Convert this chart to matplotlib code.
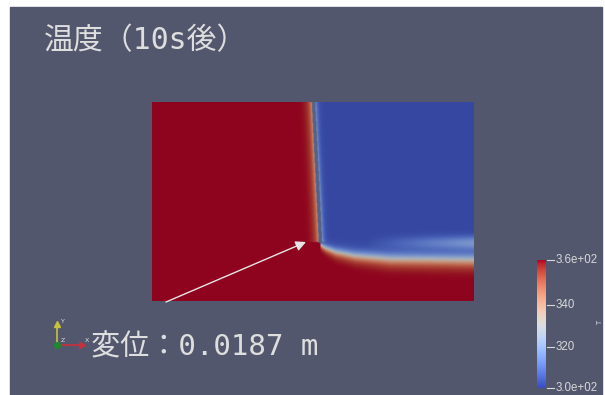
import numpy as np
import matplotlib.pyplot as plt
from matplotlib import cm
from matplotlib.colors import Normalize
from matplotlib.patches import Rectangle

# temperature range of the colour legend
t_min, t_max = 300.0, 362.0
tick_values = [360, 340, 320, 300]
tick_labels = ['3.6e+02', '340', '320', '3.0e+02']

# field levels
t_cold = 302.0         # water side
t_wall_hot = 342.0     # orange band left of the wall
t_wall_cold = 318.0    # light blue band right of the wall
haze_peak = 16.0       # light patch above the hot layer, far right

# hot layer under the cold region: distance from wall -> row of the white contour, thickness
bl_dist = [0, 5, 15, 35, 70, 160]
bl_row = [143, 146, 150, 154, 157, 158]
bl_width = [3, 4, 5, 6, 7, 7.5]

title = '温度（10s後）'
disp_label = '変位：0.0187 m'

bg = '#52576e'
fig = plt.figure(figsize=(6.05, 3.95), dpi=100, facecolor='white')
ax = fig.add_axes([0, 0, 1, 1])
ax.set_xlim(0, 605)
ax.set_ylim(395, 0)
ax.axis('off')
ax.add_patch(Rectangle((10, 7), 592, 388, color=bg, zorder=0))

# build the field on a 2x pixel grid
W, H = 322, 199
u = (np.arange(W * 2) + 0.5) / 2
v = (np.arange(H * 2) + 0.5) / 2
U, V = np.meshgrid(u, v)
x_wall = 161.5 + 7.0 * np.clip(V, 0, 140) / 140
dx = U - x_wall

T = np.full(U.shape, t_cold)
haze_amp = haze_peak * np.clip((U - 215) / 107, 0, 1)
T += haze_amp * np.exp(-((V - 141) / 6.5) ** 2)
row = np.interp(dx, bl_dist, bl_row)
wid = np.interp(dx, bl_dist, bl_width)
frac = 0.5 * (1 + np.tanh((V - row) / wid))
T = T + (t_max - T) * frac
upper = V < 140
right = (dx > 0) & upper
T = np.where(right, T + (t_wall_cold - t_cold) * np.exp(-(dx - 1.8) / 2.0) * (1 - frac), T)
left = dx <= 0
T_left = t_max - (t_max - t_wall_hot) * np.exp((dx + 1.8) / 3.0) * upper
T = np.where(left, T_left, T)

norm = Normalize(t_min, t_max)
rgb = cm.coolwarm(norm(T))[..., :3] * 0.79
wall = (np.abs(dx) < 1.8) & (V < 141)
rgb[wall] = np.array([0x58, 0x63, 0x84]) / 255
ax.imshow(rgb, extent=[152, 474, 301, 102], interpolation='bilinear', zorder=1)
ax.set_xlim(0, 605)
ax.set_ylim(395, 0)

# arrow pointing at the corner
ax.annotate('', xy=(306, 242), xytext=(166, 302),
            arrowprops=dict(arrowstyle='-|>', color='#e6e6e6', lw=1.0,
                            mutation_scale=15, shrinkA=0, shrinkB=0), zorder=3)

fonts = ['DejaVu Sans Mono', 'Noto Sans CJK JP']
ax.text(44, 41, title, fontsize=21.5, color='#dedede', family=fonts, va='center', ha='left')
ax.text(91, 347, disp_label, fontsize=21, color='#dedede', family=fonts, va='center', ha='left')

# colour legend
cax = fig.add_axes([537 / 605, 7 / 395, 9 / 605, 128 / 395])
cax.imshow(np.linspace(t_max, t_min, 256)[:, None], aspect='auto', cmap='coolwarm',
           vmin=t_min, vmax=t_max)
cax.axis('off')
for val, lab in zip(tick_values, tick_labels):
    y = 388 - (val - t_min) / (t_max - t_min) * 128
    if val == 360:
        y = 260
    ax.plot([547, 554], [y, y], color='#d8d8d8', lw=0.8)
    ax.text(556, y, lab, fontsize=8.3, color='#d8d8d8', family='Liberation Sans',
            va='center', ha='left')
ax.text(600, 323, 'T', fontsize=5, color='#d8d8d8', rotation=90, va='center', ha='center')

# orientation triad
ox, oy = 57, 345
ax.plot([ox, ox], [oy, oy - 20], color='#c8c23a', lw=1.2)
ax.plot([ox], [oy - 21], marker='^', color='#c8c23a', ms=4)
ax.plot([ox, ox + 24], [oy, oy], color='#c8303a', lw=1.2)
ax.plot([ox + 25], [oy], marker='>', color='#c8303a', ms=4)
ax.plot([ox], [oy], marker='o', color='#1e8a2e', ms=4)
ax.text(ox + 4, oy - 22, 'Y', fontsize=4.5, color='#e0e0e0')
ax.text(ox + 4, oy - 3, 'Z', fontsize=4.5, color='#e0e0e0')
ax.text(ox + 28, oy - 3, 'X', fontsize=4.5, color='#e0e0e0')

fig.savefig('out.png', dpi=100, facecolor='white')
